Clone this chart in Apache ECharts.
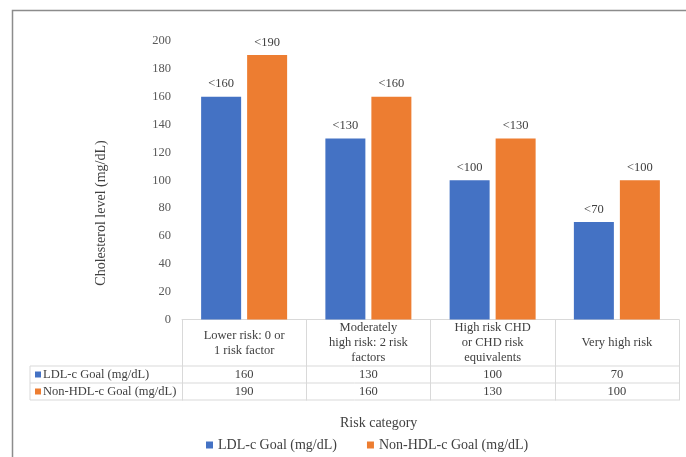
<!DOCTYPE html>
<html>
<head>
<meta charset="utf-8">
<script src="https://cdn.jsdelivr.net/npm/echarts@6/dist/echarts.min.js"></script>
<style>
html,body{margin:0;padding:0;background:#fff;}
#c{width:686px;height:457px;}
</style>
</head>
<body>
<div id="c"></div>
<script>
const categories = [
  'Lower risk: 0 or\n1 risk factor',
  'Moderately\nhigh risk: 2 risk\nfactors',
  'High risk CHD\nor CHD risk\nequivalents',
  'Very high risk'
];
const ldlName = 'LDL-c Goal (mg/dL)';
const nonHdlName = 'Non-HDL-c Goal (mg/dL)';
const ldlValues = [160, 130, 100, 70];
const nonHdlValues = [190, 160, 130, 100];
const yTicks = { min: 0, max: 200, interval: 20 };
const yTitle = 'Cholesterol level (mg/dL)';
const xTitle = 'Risk category';

const BLUE = '#4472C4', ORANGE = '#ED7D31';
const FONT = '"Liberation Serif", "Times New Roman", serif';
const LINE = '#d9d9d9';

// layout constants
const gridLeft = 182, gridRight = 679, gridTop = 41, axisY = 319.5;
const rowLines = [366, 383, 400];
const keyLeft = 30;

const chart = echarts.init(document.getElementById('c'), null, {renderer: 'canvas'});

const graphics = [
  {type:'rect', shape:{x:12.5, y:10.5, width:700, height:480}, style:{fill:'none', stroke:'#8c8c8c', lineWidth:1.5}, silent:true},
  {type:'text', x:101, y:213, rotation:Math.PI/2, style:{text:yTitle, fill:'#404040', font:'14px ' + FONT, align:'center', verticalAlign:'middle'}, silent:true}
];
rowLines.forEach(y => graphics.push({type:'line', shape:{x1:keyLeft, y1:y, x2:gridRight, y2:y}, style:{stroke:LINE, lineWidth:1}, silent:true}));
graphics.push({type:'line', shape:{x1:keyLeft, y1:rowLines[0], x2:keyLeft, y2:rowLines[2]}, style:{stroke:LINE, lineWidth:1}, silent:true});
[[ldlName, BLUE], [nonHdlName, ORANGE]].forEach((r, i) => {
  const cy = (rowLines[i] + rowLines[i+1]) / 2;
  graphics.push({type:'rect', shape:{x:35, y:cy-3, width:6, height:6}, style:{fill:r[1]}, silent:true});
  graphics.push({type:'text', x:43, y:cy, style:{text:r[0], fill:'#404040', font:'12.5px ' + FONT, verticalAlign:'middle'}, silent:true});
});

const valueAxis = (vals, margin) => ({
  type:'category', data:categories, position:'bottom', offset:0,
  axisLine:{show:false}, axisTick:{show:false}, splitLine:{show:false},
  axisLabel:{interval:0, margin:margin, verticalAlign:'middle', color:'#404040', fontFamily:FONT, fontSize:12.5,
    formatter:(v, i) => String(vals[i])}
});

chart.setOption({
  animation:false,
  backgroundColor:'#fff',
  textStyle:{fontFamily:FONT},
  title:{text:xTitle, left:335, top:411, textStyle:{fontFamily:FONT, fontSize:14, fontWeight:'normal', color:'#404040'}},
  legend:{data:[ldlName, nonHdlName], left:201, top:433, icon:'rect', itemWidth:7, itemHeight:7, itemGap:30,
    textStyle:{fontFamily:FONT, fontSize:14, color:'#404040'}},
  grid:{left:gridLeft, right:686-gridRight, top:gridTop, bottom:457-axisY, containLabel:false},
  xAxis:[
    {type:'category', data:categories, position:'bottom',
      axisLine:{show:true, lineStyle:{color:LINE}},
      axisTick:{show:true, length:81, interval:0, lineStyle:{color:LINE}},
      axisLabel:{interval:0, margin:23.5, verticalAlign:'middle', color:'#404040', fontFamily:FONT, fontSize:12.5, lineHeight:15, align:'center'}},
    valueAxis(ldlValues, 55),
    valueAxis(nonHdlValues, 72)
  ],
  yAxis:{type:'value', min:yTicks.min, max:yTicks.max, interval:yTicks.interval,
    axisLine:{show:false}, axisTick:{show:false}, splitLine:{show:false},
    axisLabel:{margin:11, color:'#595959', fontFamily:FONT, fontSize:12.5}},
  series:[
    {name:ldlName, type:'bar', data:ldlValues, barWidth:40, barGap:'15%', itemStyle:{color:BLUE},
      label:{show:true, position:'top', distance:6, formatter:p => '<' + p.value, color:'#404040', fontFamily:FONT, fontSize:12.5}},
    {name:nonHdlName, type:'bar', data:nonHdlValues, barWidth:40, barGap:'15%', itemStyle:{color:ORANGE},
      label:{show:true, position:'top', distance:6, formatter:p => '<' + p.value, color:'#404040', fontFamily:FONT, fontSize:12.5}}
  ],
  graphic:graphics
});
</script>
</body>
</html>
